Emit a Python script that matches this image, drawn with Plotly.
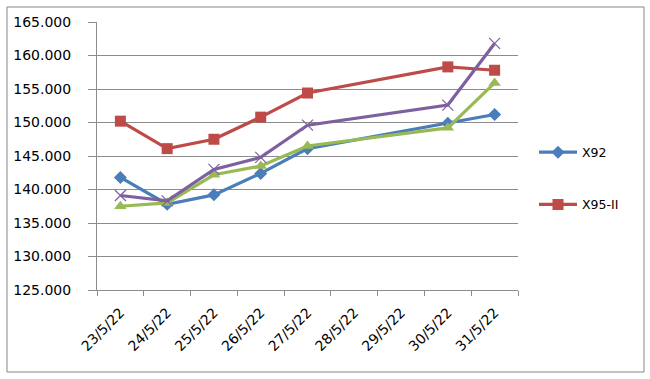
import plotly.graph_objects as go

all_dates = ["23/5/22", "24/5/22", "25/5/22", "26/5/22", "27/5/22",
             "28/5/22", "29/5/22", "30/5/22", "31/5/22"]
data_dates = ["23/5/22", "24/5/22", "25/5/22", "26/5/22", "27/5/22",
              "30/5/22", "31/5/22"]

x92 = [141.8, 137.8, 139.2, 142.4, 146.1, 149.9, 151.2]
x95_ii = [150.2, 146.1, 147.5, 150.8, 154.4, 158.3, 157.8]
series3 = [137.5, 138.0, 142.2, 143.5, 146.5, 149.2, 155.9]
series4 = [139.1, 138.3, 143.0, 144.8, 149.6, 152.6, 161.8]

y_ticks = [125, 130, 135, 140, 145, 150, 155, 160, 165]

FONT = "DejaVu Sans"
GRID = "#8c8c8c"

fig = go.Figure()
fig.add_trace(go.Scatter(
    x=data_dates, y=x92, name="X92", mode="lines+markers", legendgroup="g1",
    line=dict(color="#4a7ebb", width=3.2),
    marker=dict(symbol="diamond", size=10, color="#4a7ebb")))
fig.add_trace(go.Scatter(
    x=data_dates, y=x95_ii, name="X95-II", mode="lines+markers", legendgroup="g2",
    line=dict(color="#be4b48", width=3.2),
    marker=dict(symbol="square", size=11, color="#be4b48")))
fig.add_trace(go.Scatter(
    x=data_dates, y=series3, name="X95-III", mode="lines+markers",
    showlegend=False, legendgroup="g3",
    line=dict(color="#98b954", width=3.2),
    marker=dict(symbol="triangle-up", size=11, color="#98b954")))
fig.add_trace(go.Scatter(
    x=data_dates, y=series4, name="DO", mode="lines+markers",
    showlegend=False, legendgroup="g4",
    line=dict(color="#7d60a0", width=3.2),
    marker=dict(symbol="x-thin-open", size=11,
                line=dict(color="#7d60a0", width=1.2))))

fig.update_layout(
    width=650, height=379,
    margin=dict(l=97, r=132, t=22, b=89),
    paper_bgcolor="white", plot_bgcolor="white",
    font=dict(family=FONT, size=13, color="black"),
    showlegend=True,
    legend=dict(x=1.038, y=0.569, xanchor="left", yanchor="top",
                font=dict(family=FONT, size=12.5, color="black"),
                tracegroupgap=33, itemwidth=38, bgcolor="rgba(0,0,0,0)"),
    xaxis=dict(type="category", categoryorder="array", categoryarray=all_dates,
               range=[-0.5, len(all_dates) - 0.5],
               tickvals=all_dates, ticktext=all_dates,
               tickangle=-45, showgrid=False, tickson="boundaries",
               ticks="outside", ticklen=5, tickcolor=GRID,
               showline=True, linecolor=GRID, linewidth=1,
               ticklabelstandoff=8,
               tickfont=dict(family=FONT, size=14)),
    yaxis=dict(range=[125, 165], tickvals=y_ticks, tickformat=".3f",
               showgrid=True, gridcolor=GRID, gridwidth=1,
               ticks="outside", ticklen=8, tickcolor=GRID,
               showline=True, linecolor=GRID, linewidth=1,
               zeroline=False, ticklabelstandoff=14,
               tickfont=dict(family=FONT, size=14)),
    shapes=[dict(type="rect", xref="paper", yref="paper",
                 x0=-0.2138, x1=1.2993, y0=-0.306, y1=1.056,
                 line=dict(color="#868686", width=1), layer="above")],
)

fig.write_html(
    "out.html",
    config={"displayModeBar": False},
    post_script="document.body.style.margin='0';document.body.style.overflow='hidden';",
)
